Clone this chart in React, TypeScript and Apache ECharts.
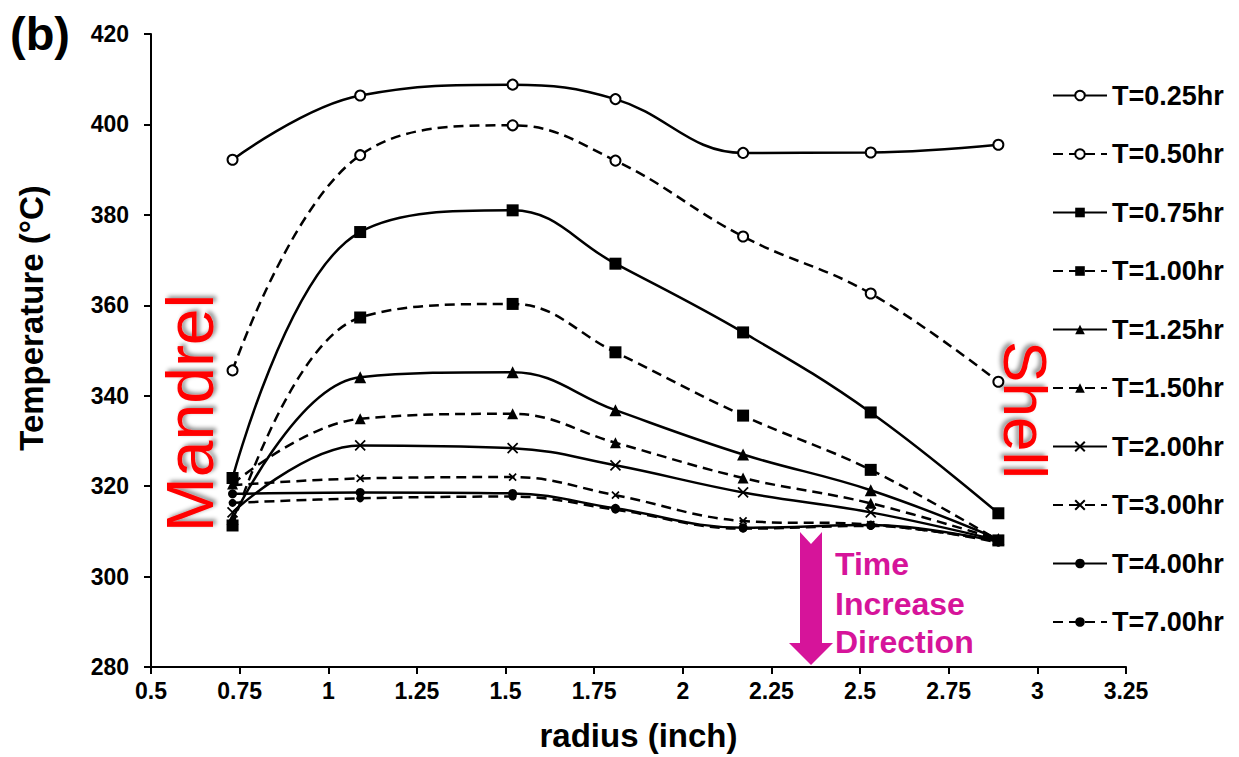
import React, { useEffect, useRef } from "react";
import * as echarts from "echarts";

const radius = [0.73, 1.09, 1.52, 1.81, 2.17, 2.53, 2.89];
const seriesNames = ["T=0.25hr", "T=0.50hr", "T=0.75hr", "T=1.00hr", "T=1.25hr", "T=1.50hr", "T=2.00hr", "T=3.00hr", "T=4.00hr", "T=7.00hr"];
const t025 = [392.2, 406.4, 408.8, 405.6, 393.7, 393.8, 395.5];
const t050 = [345.6, 393.2, 399.8, 392.0, 375.2, 362.6, 343.1];
const t075 = [321.8, 376.2, 381.0, 369.2, 354.0, 336.3, 314.0];
const t100 = [311.3, 357.3, 360.3, 349.6, 335.6, 323.6, 308.0];
const t125 = [312.8, 344.1, 345.2, 336.8, 327.0, 319.1, 308.3];
const t150 = [320.5, 334.9, 336.0, 329.6, 321.8, 316.2, 308.2];
const t200 = [314.2, 329.0, 328.4, 324.6, 318.6, 314.2, 308.0];
const t300 = [320.2, 321.7, 322.0, 318.0, 312.3, 311.5, 307.9];
const t400 = [318.3, 318.6, 318.4, 315.1, 310.8, 311.4, 307.7];
const t700 = [316.3, 317.3, 317.7, 314.8, 310.6, 311.2, 307.5];
const allValues = [t025, t050, t075, t100, t125, t150, t200, t300, t400, t700];
const yTicks = { min: 280, max: 420, interval: 20 };
const xTicks = { min: 0.5, max: 3.25, interval: 0.25 };

const FONT = "'Liberation Sans', Arial, sans-serif";
const CROSS = "path://M0,0L10,10M10,0L0,10";
const MAGENTA = "#d6149a";

const styles = [
  { dashed: false, symbol: "emptyCircle", size: 10 },
  { dashed: true, symbol: "emptyCircle", size: 10 },
  { dashed: false, symbol: "rect", size: 12 },
  { dashed: true, symbol: "rect", size: 12 },
  { dashed: false, symbol: "triangle", size: 12 },
  { dashed: true, symbol: "triangle", size: 11 },
  { dashed: false, symbol: CROSS, size: 10, cross: true },
  { dashed: true, symbol: CROSS, size: 7, cross: true },
  { dashed: false, symbol: "circle", size: 9 },
  { dashed: true, symbol: "circle", size: 8 },
];

export default function App() {
  const ref = useRef<HTMLDivElement>(null);
  useEffect(() => {
    document.body.style.margin = "0";
    if (!ref.current) return;
    const chart = echarts.init(ref.current, undefined, { renderer: "svg" });
    const series = seriesNames.map((name, i) => {
      const st: any = styles[i];
      return {
        name,
        type: "line",
        smooth: 0.4,
        data: radius.map((r, j) => [r, allValues[i][j]]),
        symbol: st.symbol,
        symbolSize: st.size,
        showAllSymbol: true,
        lineStyle: { color: "#000", width: 2.5, type: st.dashed ? [10, 6] : "solid" },
        itemStyle: st.cross
          ? { color: "rgba(0,0,0,0)", borderColor: "#000", borderWidth: 1.7 }
          : st.symbol === "emptyCircle"
          ? { color: "#000", borderColor: "#000", borderWidth: 1.6 }
          : { color: "#000", borderColor: "#000", borderWidth: 0 },
        z: 3,
      };
    });
    chart.setOption({
      animation: false,
      backgroundColor: "#fff",
      grid: { left: 151, right: 113, top: 34, bottom: 88 },
      xAxis: {
        type: "value",
        min: xTicks.min,
        max: xTicks.max,
        interval: xTicks.interval,
        name: "radius (inch)",
        nameLocation: "middle",
        nameGap: 52,
        nameTextStyle: { fontFamily: FONT, fontWeight: "bold", fontSize: 33, color: "#000" },
        axisLine: { lineStyle: { color: "#000", width: 2 } },
        axisTick: { show: true, length: 7, lineStyle: { color: "#000", width: 2 } },
        axisLabel: { fontFamily: FONT, fontWeight: "bold", fontSize: 23, color: "#000", margin: 12 },
        splitLine: { show: false },
      },
      yAxis: {
        type: "value",
        min: yTicks.min,
        max: yTicks.max,
        interval: yTicks.interval,
        axisLine: { show: true, lineStyle: { color: "#000", width: 2 } },
        axisTick: { show: true, length: 7, lineStyle: { color: "#000", width: 2 } },
        axisLabel: { fontFamily: FONT, fontWeight: "bold", fontSize: 23, color: "#000", margin: 22 },
        splitLine: { show: false },
      },
      legend: {
        orient: "vertical",
        left: 1052,
        top: 82,
        padding: 0,
        itemWidth: 54,
        itemHeight: 12,
        itemGap: 31.5,
        data: seriesNames,
        textStyle: { fontFamily: FONT, fontWeight: "bold", fontSize: 27, color: "#000" },
      },
      graphic: [
        {
          type: "text",
          left: 10,
          top: 10,
          style: { text: "(b)", font: `bold 47px ${FONT}`, fill: "#000" },
        },
        {
          type: "text",
          x: 31,
          y: 318,
          rotation: Math.PI / 2,
          style: {
            text: "Temperature (°C)",
            font: `bold 33px ${FONT}`,
            fill: "#000",
            align: "center",
            verticalAlign: "middle",
          },
        },
        {
          type: "text",
          x: 190,
          y: 413,
          rotation: Math.PI / 2,
          style: {
            text: "Mandrel",
            font: `66px ${FONT}`,
            fill: "#ff0000",
            align: "center",
            verticalAlign: "middle",
            textShadowColor: "rgba(0,0,0,0.45)",
            textShadowBlur: 4,
            textShadowOffsetX: 2,
            textShadowOffsetY: 3,
          },
          z: 10,
        },
        {
          type: "text",
          x: 1026,
          y: 410,
          rotation: -Math.PI / 2,
          style: {
            text: "Shell",
            font: `62px ${FONT}`,
            fill: "#ff0000",
            align: "center",
            verticalAlign: "middle",
            textShadowColor: "rgba(0,0,0,0.45)",
            textShadowBlur: 4,
            textShadowOffsetX: -2,
            textShadowOffsetY: 3,
          },
          z: 10,
        },
        {
          type: "polygon",
          shape: {
            points: [
              [800, 532], [811, 544], [822, 532], [822, 643], [833, 643], [811, 665], [789, 643], [800, 643],
            ],
          },
          style: { fill: MAGENTA },
          z: 10,
        },
        {
          type: "text",
          x: 835,
          y: 564,
          style: { text: "Time", font: `bold 32px ${FONT}`, fill: MAGENTA, verticalAlign: "middle" },
          z: 10,
        },
        {
          type: "text",
          x: 835,
          y: 604,
          style: { text: "Increase", font: `bold 32px ${FONT}`, fill: MAGENTA, verticalAlign: "middle" },
          z: 10,
        },
        {
          type: "text",
          x: 835,
          y: 642,
          style: { text: "Direction", font: `bold 32px ${FONT}`, fill: MAGENTA, verticalAlign: "middle" },
          z: 10,
        },
      ],
      series,
    });
    return () => chart.dispose();
  }, []);
  return <div ref={ref} style={{ width: 1239, height: 757 }} />;
}
